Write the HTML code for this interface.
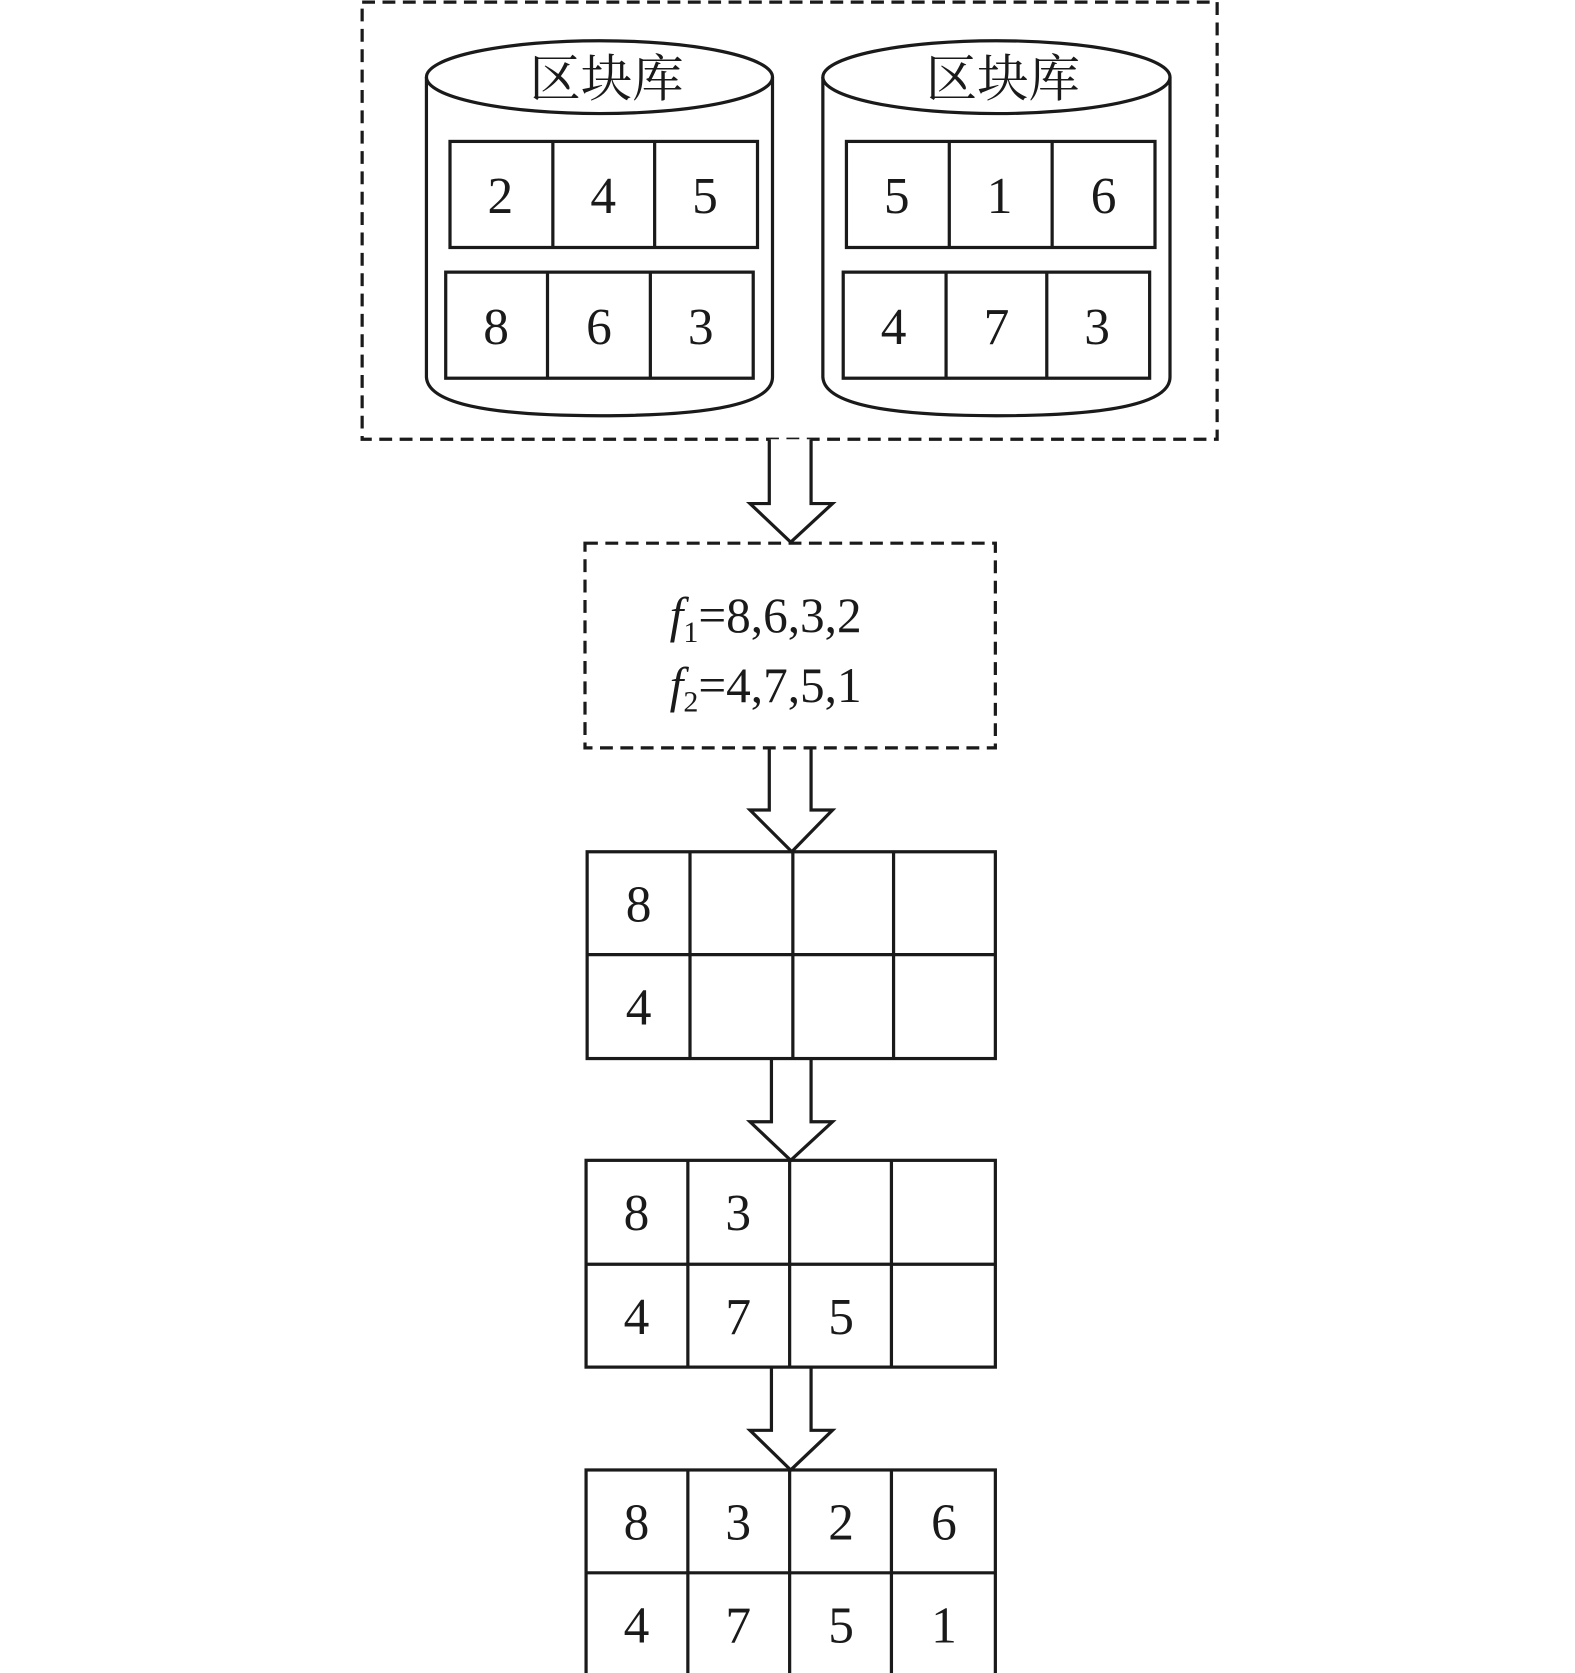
<!DOCTYPE html>
<html><head><meta charset="utf-8"><style>
html,body{margin:0;padding:0;background:#fff;}
svg{display:block;}
text{font-family:"Liberation Serif","Noto Serif CJK SC",serif;fill:#1a1a1a;}
</style></head><body>
<svg width="1575" height="1673" viewBox="0 0 1470 1561.5" preserveAspectRatio="none" xmlns="http://www.w3.org/2000/svg">
<g fill="none" stroke="#1a1a1a" stroke-width="3">
  <rect x="338" y="2" width="798" height="408" stroke-dasharray="12,7"/>
  <!-- cylinder 1 -->
  <path d="M398,72 L398,352 Q400,388 560,388 Q721,388 721,352 L721,72"/>
  <ellipse cx="559.5" cy="72" rx="161.5" ry="34"/>
  <!-- cylinder 2 -->
  <path d="M768,72 L768,352 Q770,388 930,388 Q1092,388 1092,352 L1092,72"/>
  <ellipse cx="930" cy="72" rx="162" ry="34"/>
  <!-- tables in cylinders -->
  <rect x="420" y="132" width="287" height="99"/><line x1="516" y1="132" x2="516" y2="231"/><line x1="611" y1="132" x2="611" y2="231"/>
  <rect x="416" y="254" width="287" height="99"/><line x1="511" y1="254" x2="511" y2="353"/><line x1="607" y1="254" x2="607" y2="353"/>
  <rect x="790" y="132" width="288" height="99"/><line x1="886" y1="132" x2="886" y2="231"/><line x1="982" y1="132" x2="982" y2="231"/>
  <rect x="787" y="254" width="286" height="99"/><line x1="883" y1="254" x2="883" y2="353"/><line x1="977" y1="254" x2="977" y2="353"/>
  <!-- arrows -->
  <path d="M718,410 L718,470 L700,470 L738,506 L777,470 L757,470 L757,410" fill="#fff"/>
  <path d="M718,698 L718,756 L700,756 L739,795 L777,756 L757,756 L757,698" fill="#fff"/>
  <path d="M720,988 L720,1047 L700,1047 L738,1083 L777,1047 L757,1047 L757,988" fill="#fff"/>
  <path d="M720,1276 L720,1335 L700,1335 L738,1372 L777,1335 L757,1335 L757,1276" fill="#fff"/>
  <!-- dashed box 2 -->
  <rect x="546" y="507" width="383" height="191" stroke-dasharray="12,7"/>
  <!-- grids -->
  <rect x="548" y="795" width="381" height="193"/><line x1="548" y1="891" x2="929" y2="891"/>
  <line x1="644" y1="795" x2="644" y2="988"/><line x1="740" y1="795" x2="740" y2="988"/><line x1="834" y1="795" x2="834" y2="988"/>
  <rect x="547" y="1083" width="382" height="193"/><line x1="547" y1="1180" x2="929" y2="1180"/>
  <line x1="642" y1="1083" x2="642" y2="1276"/><line x1="737" y1="1083" x2="737" y2="1276"/><line x1="832" y1="1083" x2="832" y2="1276"/>
  <rect x="547" y="1372" width="382" height="193"/><line x1="547" y1="1468" x2="929" y2="1468"/>
  <line x1="642" y1="1372" x2="642" y2="1565"/><line x1="737" y1="1372" x2="737" y2="1565"/><line x1="832" y1="1372" x2="832" y2="1565"/>
</g>
<g font-size="48" text-anchor="middle">
  <text x="566" y="90" font-size="48">区块库</text>
  <text x="936" y="90" font-size="48">区块库</text>
  <text x="467" y="199">2</text><text x="563" y="199">4</text><text x="658" y="199">5</text>
  <text x="463" y="321">8</text><text x="559" y="321">6</text><text x="654" y="321">3</text>
  <text x="837" y="199">5</text><text x="933" y="199">1</text><text x="1030" y="199">6</text>
  <text x="834" y="321">4</text><text x="930" y="321">7</text><text x="1024" y="321">3</text>

  <text x="596" y="860">8</text><text x="596" y="956">4</text>

  <text x="594" y="1148">8</text><text x="689" y="1148">3</text>
  <text x="594" y="1245">4</text><text x="689" y="1245">7</text><text x="785" y="1245">5</text>

  <text x="594" y="1437">8</text><text x="689" y="1437">3</text><text x="785" y="1437">2</text><text x="881" y="1437">6</text>
  <text x="594" y="1533">4</text><text x="689" y="1533">7</text><text x="785" y="1533">5</text><text x="881" y="1533">1</text>
</g>
<g font-size="46">
  <text x="625" y="590"><tspan font-style="italic">f</tspan><tspan font-size="28" dy="9">1</tspan><tspan dy="-9">=8,6,3,2</tspan></text>
  <text x="625" y="655"><tspan font-style="italic">f</tspan><tspan font-size="28" dy="9">2</tspan><tspan dy="-9">=4,7,5,1</tspan></text>
</g>
</svg>
</body></html>
